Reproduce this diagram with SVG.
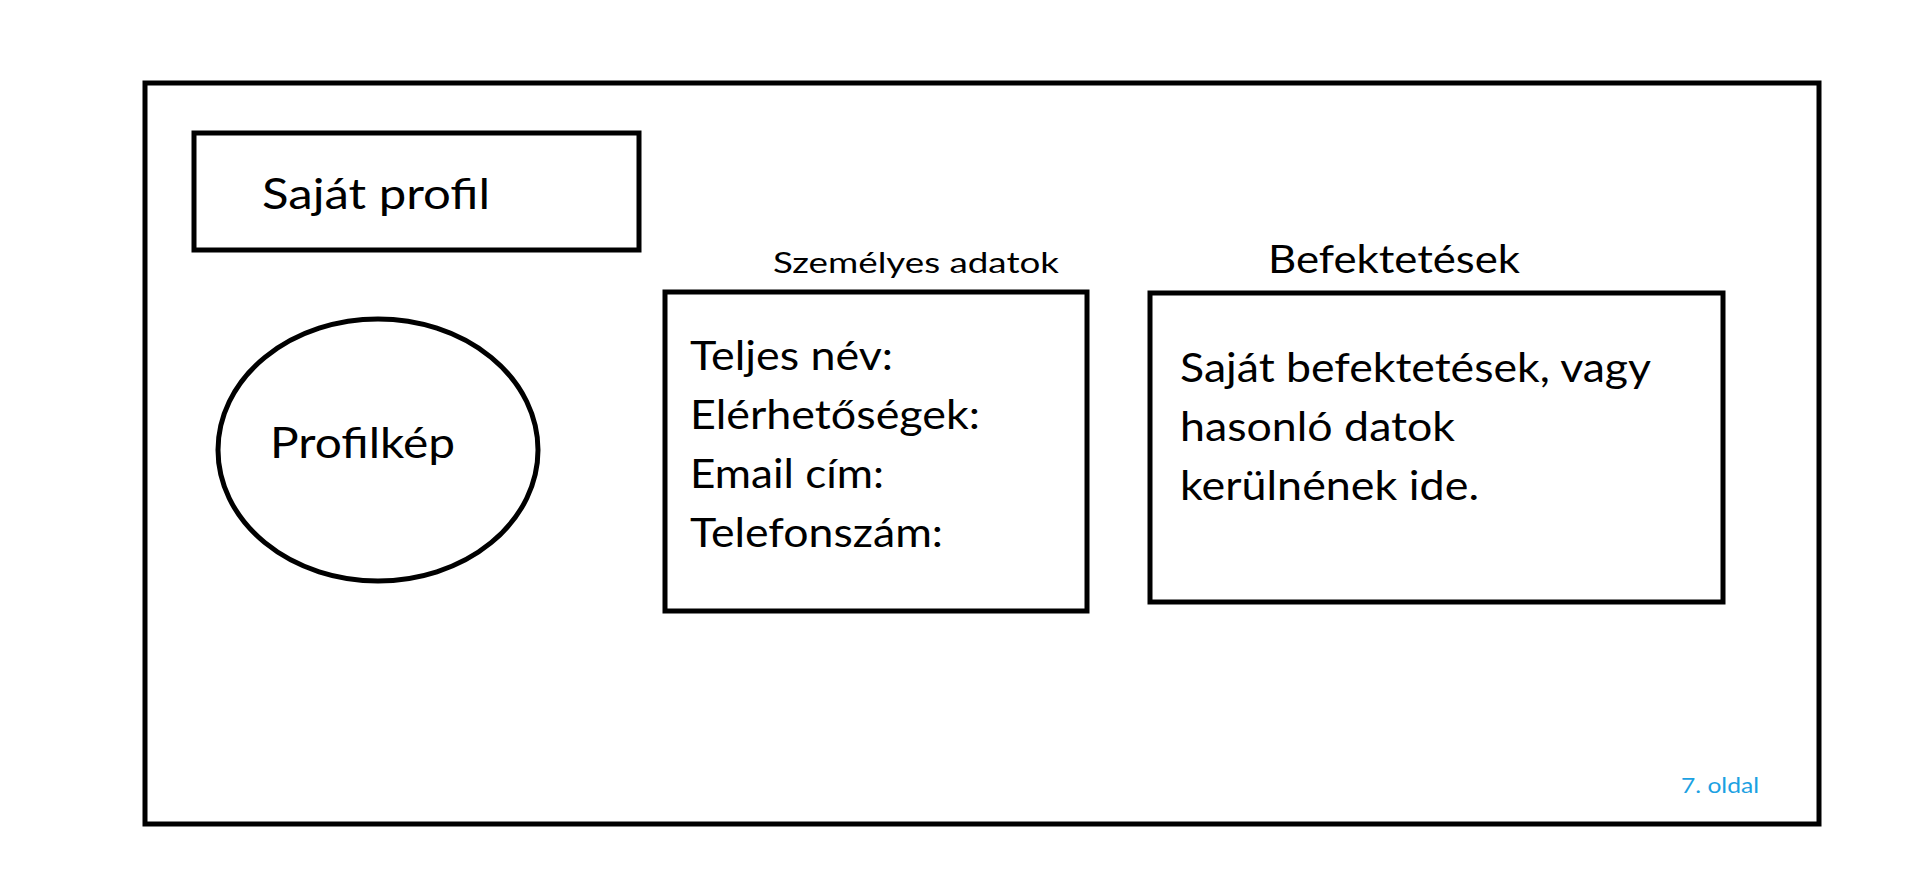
<svg xmlns="http://www.w3.org/2000/svg" width="1914" height="869" viewBox="0 0 1914 869">
<style>
.box{fill:none;stroke:#000;stroke-width:5}
.t{font-family:Lato,"Liberation Sans",sans-serif;fill:#000}
</style>
<rect width="1914" height="869" fill="#fff"/>
<g id="page">
<rect class="box" x="145" y="83" width="1674" height="741"/>
<text class="t" x="1681" y="793" font-size="22" fill="#1BA1E2" style="fill:#1BA1E2" textLength="78" lengthAdjust="spacingAndGlyphs">7. oldal</text>
</g>
<g id="title">
<rect class="box" x="194" y="133" width="445" height="117"/>
<text class="t" x="262" y="209" font-size="43" textLength="228" lengthAdjust="spacingAndGlyphs">Saját profil</text>
</g>
<g id="profilkep">
<ellipse class="box" cx="378" cy="450" rx="160" ry="131"/>
<text class="t" x="270" y="458" font-size="42" textLength="185" lengthAdjust="spacingAndGlyphs">Profilkép</text>
</g>
<g id="szemelyes">
<text class="t" x="773" y="273" font-size="29" textLength="286" lengthAdjust="spacingAndGlyphs">Személyes adatok</text>
<rect class="box" x="665" y="292" width="422" height="319"/>
<text class="t" x="690" y="370" font-size="40" textLength="203" lengthAdjust="spacingAndGlyphs">Teljes név:</text>
<text class="t" x="690" y="429" font-size="40" textLength="290" lengthAdjust="spacingAndGlyphs">Elérhetőségek:</text>
<text class="t" x="690" y="488" font-size="40" textLength="194" lengthAdjust="spacingAndGlyphs">Email cím:</text>
<text class="t" x="690" y="547" font-size="40" textLength="253" lengthAdjust="spacingAndGlyphs">Telefonszám:</text>
</g>
<g id="befektetesek">
<text class="t" x="1268" y="273" font-size="39" textLength="252" lengthAdjust="spacingAndGlyphs">Befektetések</text>
<rect class="box" x="1150" y="293" width="573" height="309"/>
<text class="t" x="1180" y="382" font-size="40" textLength="471" lengthAdjust="spacingAndGlyphs">Saját befektetések, vagy</text>
<text class="t" x="1180" y="441" font-size="40" textLength="275" lengthAdjust="spacingAndGlyphs">hasonló datok</text>
<text class="t" x="1180" y="500" font-size="40" textLength="299" lengthAdjust="spacingAndGlyphs">kerülnének ide.</text>
</g>
<g id="connectors"/>
</svg>
